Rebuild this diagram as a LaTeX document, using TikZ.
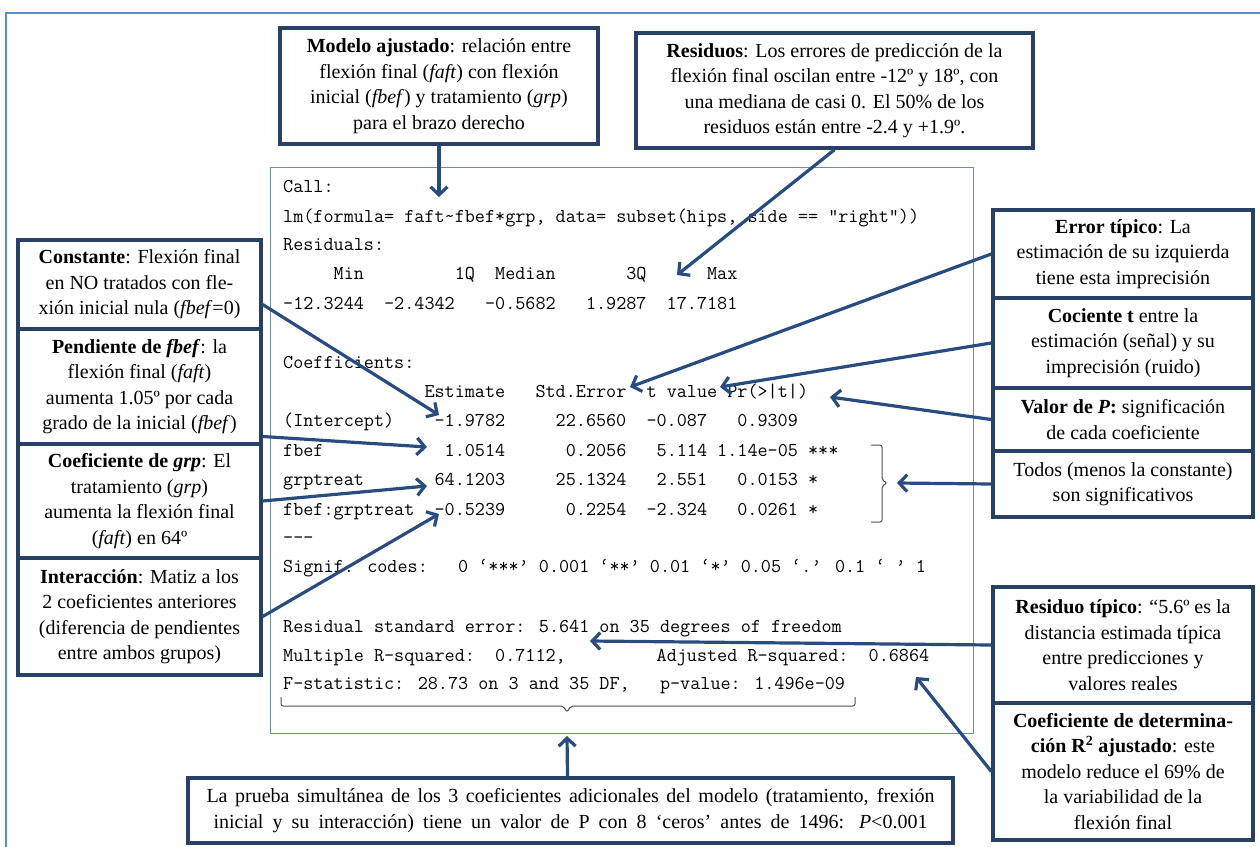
\documentclass[tikz,border=0pt]{standalone}
\usepackage{fontspec}
\setmainfont{Liberation Serif}
\usetikzlibrary{arrows.meta,calc}
\definecolor{boxc}{RGB}{40,64,100}
\definecolor{arrc}{RGB}{40,76,128}
\definecolor{framec}{RGB}{91,140,205}
\definecolor{routc}{RGB}{110,140,175}
\definecolor{bracec}{RGB}{80,80,80}
\begin{document}
\begin{tikzpicture}[x=1pt,y=-1pt,
  box/.style={draw=boxc,line width=3.4pt,fill=white,align=center,inner sep=0pt,font=\fontsize{20}{25.5}\selectfont,text=black},
  arr/.style={draw=arrc,line width=3.2pt,-{Straight Barb[length=8pt,width=17pt,line width=3.2pt]}},
  rline/.style={anchor=base west,inner sep=0pt,font=\ttfamily\fontsize{19.6}{22}\selectfont},
  brc/.style={draw=bracec,line width=1pt,rounded corners=2pt}]
\useasboundingbox (0,0) rectangle (1260,846);
\fill[white] (0,0) rectangle (1260,846);
\draw[framec,line width=2pt] (1262,13) -- (6,13) -- (6,848);

% R output
\node[draw=routc,line width=1pt,minimum width=703pt,minimum height=566pt,inner sep=0pt] (rout) at (621.5,450) {};
\node[rline] (r1) at (283,192) {Call:};
\node[rline] (r2) at (283,222) {lm(formula= faft\textasciitilde fbef*grp, data= subset(hips, side == "right"))};
\node[rline] (r3) at (283,250) {Residuals:};
\node[rline] (r4) at (283,279) {~~~~~Min~~~~~~~~~1Q~~Median~~~~~~~3Q~~~~~~Max};
\node[rline] (r5) at (283,309) {-12.3244~~-2.4342~~~-0.5682~~~1.9287~~17.7181};
\node[rline] (r6) at (283,368) {Coefficients:};
\node[rline] (r7) at (283,397) {~~~~~~~~~~~~~~Estimate~~~Std.Error~~t value~Pr(>|t|)};
\node[rline] (r8) at (283,426) {(Intercept)~~~~-1.9782~~~~~22.6560~~-0.087~~~0.9309};
\node[rline] (r9) at (283,456) {fbef~~~~~~~~~~~~1.0514~~~~~~0.2056~~~5.114 1.14e-05 ***};
\node[rline] (r10) at (283,485) {grptreat~~~~~~~64.1203~~~~~25.1324~~~2.551~~~0.0153 *};
\node[rline] (r11) at (283,515) {fbef:grptreat~~-0.5239~~~~~~0.2254~~-2.324~~~0.0261 *};
\node[rline] (r12) at (283,543) {-{}-{}-};
\node[rline] (r13) at (283,572) {Signif. codes:~~~0 ‘***’ 0.001 ‘**’ 0.01 ‘*’ 0.05 ‘.’ 0.1 ‘~’ 1};
\node[rline] (r14) at (283,632) {Residual standard error: 5.641 on 35 degrees of freedom};
\node[rline] (r15) at (283,661) {Multiple R-squared:~~0.7112,~~~~~~~~~Adjusted R-squared:~~0.6864};
\node[rline] (r16) at (283,689) {F-statistic: 28.73 on 3 and 35 DF,~~~p-value: 1.496e-09};

% braces
\draw[brc] (871,445) -- (882,445) -- (882,480) -- (887,483) -- (882,486) -- (882,522) -- (871,522);
\draw[brc] (281,697) -- (281,706) -- (563,706) -- (567,712) -- (571,706) -- (855,706) -- (855,697);

% boxes
\node[box,minimum width=318pt,minimum height=116pt] (mod) at (439,86) {\textbf{Modelo ajustado}: relación entre\\flexión final (\textit{faft}) con flexión\\inicial (\textit{fbef}) y tratamiento (\textit{grp})\\para el brazo derecho};
\node[box,minimum width=397pt,minimum height=115pt] (res) at (834.5,90.5) {\textbf{Residuos}: Los errores de predicción de la\\flexión final oscilan entre -12º y 18º, con\\una mediana de casi 0. El 50\% de los\\residuos están entre -2.4 y +1.9º.};

\node[box,minimum width=260pt,minimum height=88pt] (err) at (1123,254) {\textbf{Error típico}: La\\estimación de su izquierda\\tiene esta imprecisión};
\node[box,minimum width=260pt,minimum height=90pt] (coc) at (1123,343) {\textbf{Cociente t} entre la\\estimación (señal) y su\\imprecisión (ruido)};
\node[box,minimum width=260pt,minimum height=63pt] (val) at (1123,419.5) {\textbf{Valor de \textit{P}:} significación\\de cada coeficiente};
\node[box,minimum width=260pt,minimum height=66pt] (tod) at (1123,484) {Todos (menos la constante)\\son significativos};
\node[box,minimum width=260pt,minimum height=116pt] (rtip) at (1123,645) {\textbf{Residuo típico}: “5.6º es la\\distancia estimada típica\\entre predicciones y\\valores reales};
\node[box,minimum width=260pt,minimum height=137pt] (cdet) at (1123,771.5) {\textbf{Coeficiente de determina-}\\\textbf{ción R\textsuperscript{2} ajustado}: este\\modelo reduce el 69\% de\\la variabilidad de la\\flexión final};

\node[box,minimum width=243pt,minimum height=89pt] (cte) at (139.5,284.5) {\textbf{Constante}: Flexión final\\en NO tratados con fle-\\xión inicial nula (\textit{fbef}=0)};
\node[box,minimum width=243pt,minimum height=115pt] (pend) at (139.5,386.5) {\textbf{Pendiente de \textit{fbef}}: la\\flexión final (\textit{faft})\\aumenta 1.05º por cada\\grado de la inicial (\textit{fbef})};
\node[box,minimum width=243pt,minimum height=114pt] (cgrp) at (139.5,501) {\textbf{Coeficiente de \textit{grp}}: El\\tratamiento (\textit{grp})\\aumenta la flexión final\\(\textit{faft}) en 64º};
\node[box,minimum width=243pt,minimum height=117pt] (inter) at (139.5,616.5) {\textbf{Interacción}: Matiz a los\\2 coeficientes anteriores\\(diferencia de pendientes\\entre ambos grupos)};

\node[box,minimum width=765pt,minimum height=65pt] (prb) at (570.5,810.5) {\makebox[728pt][s]{La prueba simultánea de los 3 coeficientes adicionales del modelo (tratamiento, frexión}\\\makebox[714pt][s]{inicial y su interacción) tiene un valor de P con 8 ‘ceros’ antes de 1496: \textit{P}<0.001}};

% arrow tips
\coordinate (tMod) at (439,197);
\coordinate (tRes) at (677,275);
\coordinate (tErr) at (630,387);
\coordinate (tCoc) at (720,387);
\coordinate (tVal) at (830,397);
\coordinate (tTod) at (897,483);
\coordinate (tRtip) at (590,641);
\coordinate (tCdet) at (916,677);
\coordinate (tCte) at (439,415);
\coordinate (tPend) at (427,447);
\coordinate (tCgrp) at (427,486);
\coordinate (tInter) at (439,514);
\coordinate (tPrb) at (567,736);

\draw[arr] (mod.south) -- (tMod);
\draw[arr] (res.south) -- (tRes);
\draw[arr] (err.west) -- (tErr);
\draw[arr] (coc.west) -- (tCoc);
\draw[arr] (val.west) -- (tVal);
\draw[arr] (tod.west) -- (tTod);
\draw[arr] (rtip.west) -- (tRtip);
\draw[arr] (cdet.west) -- (tCdet);
\draw[arr] ($(cte.east)+(0,20)$) -- (tCte);
\draw[arr] ($(pend.east)+(0,50)$) -- (tPend);
\draw[arr] (cgrp.east) -- (tCgrp);
\draw[arr] (inter.east) -- (tInter);
\draw[arr] ($(prb.north)+(-3,0)$) -- (tPrb);
\end{tikzpicture}
\end{document}
